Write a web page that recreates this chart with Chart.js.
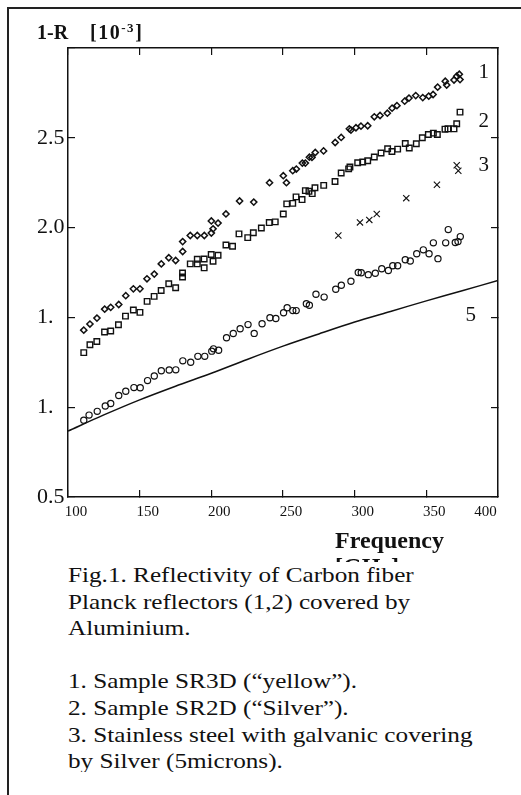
<!DOCTYPE html>
<html>
<head>
<meta charset="utf-8">
<script src="https://cdn.jsdelivr.net/npm/chart.js@4.4.0/dist/chart.umd.min.js"></script>
<style>
  html, body { margin:0; padding:0; width:521px; height:795px; overflow:hidden; background:#fff; }
  #frame { position:absolute; left:7px; top:7px; width:560px; height:820px; border-left:2px solid #222; border-top:2px solid #222; }
  #c { position:absolute; left:0; top:0; }
  .serif { font-family:"Liberation Serif","Times New Roman",serif; color:#111; }
  #ytitle { position:absolute; left:37px; top:22px; font-size:20px; font-weight:bold; line-height:20px; white-space:nowrap; }
  #ytitle sup { font-size:13px; vertical-align:7px; line-height:0; }
  #xtitle { position:absolute; left:335px; top:527px; font-size:24px; font-weight:bold; line-height:26px; white-space:nowrap; }
  #cap { position:absolute; left:68px; top:562px; width:460px; height:210px; overflow:hidden; background:#fff; font-size:21px; line-height:26.6px; }
  #cap > div { transform:scaleX(1.2); transform-origin:0 0; white-space:nowrap; }
</style>
</head>
<body>
<div id="frame"></div>
<canvas id="c" width="521" height="540" style="width:521px;height:540px"></canvas>
<div id="ytitle" class="serif">1-R<span style="margin-left:22px;letter-spacing:1.5px">[10<sup>-3</sup>]</span></div>
<div id="xtitle" class="serif">Frequency<br>[GHz]</div>
<div id="cap" class="serif"><div>Fig.1. Reflectivity of Carbon fiber<br>Planck reflectors (1,2) covered by<br>Aluminium.<br><br>1. Sample SR3D (“yellow”).<br>2. Sample SR2D (“Silver”).<br>3. Stainless steel with galvanic covering<br>by Silver (5microns).</div></div>
<script>
// ---- Data ----
const xTickValues = [100, 150, 200, 250, 300, 350, 400];
const xTickLabels = ['100', '150', '200', '250', '300', '350', '400           '];
const yTickValues = [0.5, 1.0, 1.5, 2.0, 2.5, 3.0];
const yTickLabels = ['0.5', '1.', '1.', '2.0', '2.5', ''];

// Series 1: Sample SR3D (diamonds)
const s1Freq = [111,115.3,120.2,125.6,129.8,135.4,140.3,145.6,150.2,155.1,160.2,165.1,170.3,175.1,180,180,185.3,190.2,195.1,200,201.2,200,204.7,210.2,219.7,229.6,240.6,250.2,252.4,256.8,259.3,263.5,265.6,268.4,270.2,272.5,278.3,286.4,290.6,296.3,297.4,300.9,304.4,309.1,313.7,317.7,322.8,326.1,329.5,334.9,337.9,342.6,347.5,351.7,354.7,357.9,363.2,364.2,369.3,371.2,373,373.5];
const s1Val  = [1.429,1.463,1.496,1.546,1.556,1.572,1.621,1.659,1.659,1.715,1.741,1.798,1.832,1.817,1.867,1.922,1.956,1.956,1.956,1.970,1.993,2.037,2.025,2.076,2.148,2.142,2.25,2.289,2.25,2.317,2.326,2.359,2.359,2.392,2.391,2.418,2.427,2.474,2.502,2.55,2.543,2.556,2.565,2.567,2.617,2.624,2.637,2.665,2.679,2.704,2.721,2.735,2.724,2.732,2.741,2.782,2.815,2.794,2.822,2.843,2.854,2.824];

// Series 2: Sample SR2D (squares)
const s2Freq = [111,115.3,120.1,125.5,129.8,135.2,140.1,145.6,150.2,155.2,160.1,165,170.3,175.1,179.9,179.9,185.3,190.2,190.2,195,195,199.9,201.2,204.7,210.2,214.8,219.3,225.4,229.3,234.9,240.4,244.6,250.2,252.6,256.8,259.1,263.3,265.6,268.1,270.4,272.3,278.4,286.3,290.6,295.8,296.7,302.1,305.6,309.1,313.7,318.4,323,326,330,335.3,338.1,343,347.2,351.4,354.9,357.7,363,365.1,369.3,371.2,373.5];
const s2Val  = [1.304,1.348,1.366,1.419,1.424,1.459,1.507,1.541,1.528,1.589,1.617,1.65,1.687,1.665,1.747,1.725,1.798,1.798,1.824,1.776,1.825,1.85,1.813,1.846,1.903,1.896,1.965,1.944,1.971,1.998,2.028,2.032,2.076,2.132,2.135,2.171,2.156,2.206,2.202,2.189,2.222,2.235,2.257,2.304,2.327,2.337,2.361,2.365,2.372,2.393,2.415,2.439,2.424,2.437,2.468,2.443,2.467,2.5,2.518,2.526,2.518,2.548,2.55,2.55,2.578,2.643];

// Series 3: Stainless steel + silver (crosses)
const s3Freq = [288.6,303.7,310.2,315.4,336,357.4,371.2,372.3];
const s3Val  = [1.956,2.029,2.043,2.076,2.164,2.239,2.347,2.316];

// Series 4: circles
const s4Freq = [111,114.7,120.4,126,129.8,135.4,140.3,146,150.4,155.5,160.2,165.1,170.6,175.2,180.1,185.6,190.6,195.4,200.3,201.5,205.1,210.6,215.3,220.1,225.6,229.9,235.4,240.9,245,250.4,252.9,256.8,259.2,266.3,268.4,273,278.7,286.8,290.7,297.4,302.5,304.6,309.5,314.4,318.9,323.5,326.6,330,335.3,338.8,343.3,347.9,351.9,354.9,358.1,363.5,365.3,370.2,372.1,373.7];
const s4Val  = [0.928,0.956,0.977,1.007,1.021,1.065,1.089,1.109,1.108,1.148,1.174,1.203,1.207,1.208,1.258,1.25,1.283,1.283,1.312,1.325,1.317,1.387,1.41,1.437,1.46,1.411,1.465,1.498,1.494,1.526,1.554,1.538,1.538,1.576,1.568,1.629,1.613,1.657,1.679,1.701,1.75,1.749,1.738,1.746,1.771,1.761,1.788,1.788,1.821,1.814,1.854,1.876,1.854,1.915,1.827,1.915,1.989,1.917,1.922,1.95];

// Curve 5: solid line
const s5Freq = [100,125,150,175,200,225,250,275,300,325,350,375,400];
const s5Val  = [0.867,0.957,1.041,1.117,1.189,1.266,1.340,1.408,1.474,1.533,1.592,1.648,1.706];

// In-plot curve labels (anchored in data units)
const curveLabels = ['1', '2', '3', '5'];
const curveLabelFreq = [390, 390, 390, 381];
const curveLabelVal  = [2.835, 2.561, 2.313, 1.479];

// ---- Chart ----
const pts = (xs, ys) => xs.map((x, i) => ({ x: x, y: ys[i] }));
const INK = '#111';
const serif = '"Liberation Serif", "Times New Roman", serif';

const curveLabelPlugin = {
  id: 'curveLabels',
  afterDatasetsDraw(chart) {
    const { ctx, scales } = chart;
    ctx.save();
    ctx.fillStyle = INK;
    ctx.font = '21px ' + serif;
    ctx.textAlign = 'center';
    ctx.textBaseline = 'alphabetic';
    curveLabels.forEach((t, i) => {
      ctx.fillText(t, scales.x.getPixelForValue(curveLabelFreq[i]), scales.y.getPixelForValue(curveLabelVal[i]));
    });
    ctx.restore();
  }
};

const gridOpts = { drawOnChartArea: false, drawTicks: true, tickLength: -7, color: INK, lineWidth: 1.2 };
const borderOpts = { display: true, color: INK, width: 1.5 };
const noPad = (s) => { s.paddingLeft = 0; s.paddingRight = 0; s.paddingTop = 0; s.paddingBottom = 0; };

new Chart(document.getElementById('c'), {
  type: 'scatter',
  data: {
    datasets: [
      { label: '1', data: pts(s1Freq, s1Val), pointStyle: 'rectRot', pointRadius: 3.1, borderWidth: 1.5,
        borderColor: INK, backgroundColor: 'rgba(0,0,0,0)' },
      { label: '2', data: pts(s2Freq, s2Val), pointStyle: 'rect', pointRadius: 3.9, borderWidth: 1.4,
        borderColor: INK, backgroundColor: 'rgba(0,0,0,0)' },
      { label: '3', data: pts(s3Freq, s3Val), pointStyle: 'crossRot', pointRadius: 4.4, borderWidth: 1.1,
        borderColor: INK, backgroundColor: 'rgba(0,0,0,0)' },
      { label: '4', data: pts(s4Freq, s4Val), pointStyle: 'circle', pointRadius: 3.1, borderWidth: 1.2,
        borderColor: INK, backgroundColor: 'rgba(0,0,0,0)' },
      { label: '5', type: 'line', data: pts(s5Freq, s5Val), showLine: true, pointRadius: 0, borderWidth: 1.5,
        borderColor: INK, tension: 0.3, fill: false }
    ]
  },
  options: {
    responsive: false,
    devicePixelRatio: 1,
    animation: false,
    events: [],
    layout: { padding: { left: 37, top: 0, right: 0, bottom: 0 } },
    plugins: { legend: { display: false }, tooltip: { enabled: false } },
    scales: {
      x: {
        type: 'linear', position: 'bottom', min: 100, max: 400,
        afterBuildTicks: (s) => { s.ticks = xTickValues.map(v => ({ value: v })); },
        afterFit: (s) => { s.height = 43; noPad(s); },
        ticks: { autoSkip: false, maxRotation: 0, minRotation: 0, padding: 13, labelOffset: 8,
                 color: INK, font: { family: serif, size: 15 },
                 callback: (v, i) => xTickLabels[i] },
        grid: gridOpts, border: borderOpts
      },
      x2: {
        type: 'linear', position: 'top', min: 100, max: 400,
        afterBuildTicks: (s) => { s.ticks = xTickValues.map(v => ({ value: v })); },
        afterFit: (s) => { s.height = 48; noPad(s); },
        ticks: { display: false },
        grid: gridOpts, border: borderOpts
      },
      y: {
        type: 'linear', position: 'left', min: 0.5, max: 3.0,
        afterBuildTicks: (s) => { s.ticks = yTickValues.map(v => ({ value: v })); },
        afterFit: (s) => { s.width = 31; noPad(s); },
        ticks: { crossAlign: 'far', padding: 7, color: INK, font: { family: serif, size: 22 },
                 callback: (v, i) => yTickLabels[i] },
        grid: gridOpts, border: borderOpts
      },
      y2: {
        type: 'linear', position: 'right', min: 0.5, max: 3.0,
        afterBuildTicks: (s) => { s.ticks = yTickValues.map(v => ({ value: v })); },
        afterFit: (s) => { s.width = 23; noPad(s); },
        ticks: { display: false },
        grid: gridOpts, border: borderOpts
      }
    }
  },
  plugins: [curveLabelPlugin]
});
</script>
</body>
</html>
